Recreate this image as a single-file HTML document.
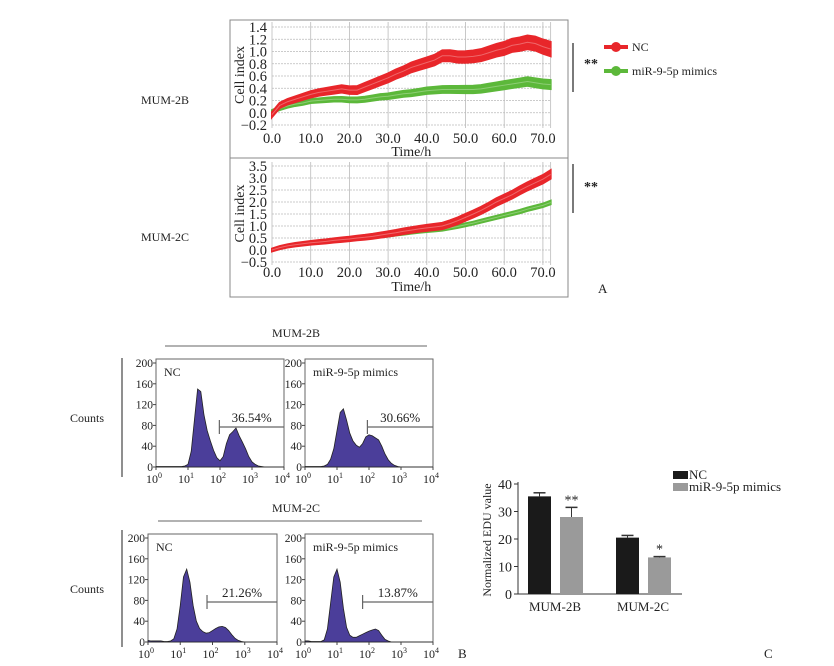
<!DOCTYPE html>
<html><head><meta charset="utf-8"><style>
body{margin:0;background:#fff;}
svg{display:block;font-family:"Liberation Serif",serif;}
</style></head><body>
<svg id="fig" width="834" height="666" viewBox="0 0 834 666"></svg>
<script>
// ---- Panel A data ----
const hours=[0,2,4,6,8,10,12,14,16,18,20,22,24,26,28,30,32,34,36,38,40,42,44,46,48,50,52,54,56,58,60,62,64,66,68,70,72];
const top_nc=[-0.03,0.12,0.18,0.22,0.26,0.30,0.33,0.35,0.37,0.39,0.37,0.37,0.42,0.47,0.52,0.57,0.63,0.68,0.74,0.78,0.82,0.86,0.93,0.93,0.91,0.91,0.92,0.94,0.98,1.02,1.05,1.10,1.12,1.15,1.13,1.08,1.04];
const top_mim=[0.02,0.07,0.11,0.14,0.16,0.19,0.20,0.21,0.22,0.22,0.21,0.21,0.22,0.24,0.26,0.27,0.29,0.31,0.32,0.34,0.36,0.37,0.38,0.38,0.38,0.38,0.38,0.39,0.41,0.43,0.45,0.47,0.49,0.51,0.49,0.47,0.46];
const bot_nc=[0.0,0.1,0.17,0.22,0.26,0.3,0.33,0.36,0.4,0.43,0.46,0.5,0.53,0.57,0.62,0.67,0.72,0.78,0.83,0.88,0.92,0.96,1.0,1.1,1.22,1.36,1.5,1.65,1.82,2.0,2.15,2.3,2.48,2.65,2.8,2.95,3.15];
const bot_mim=[0.0,0.1,0.16,0.21,0.25,0.29,0.32,0.35,0.38,0.41,0.44,0.47,0.5,0.53,0.57,0.61,0.65,0.69,0.73,0.77,0.8,0.83,0.86,0.92,0.98,1.05,1.12,1.2,1.28,1.36,1.44,1.52,1.6,1.7,1.78,1.86,1.98];
const xTicks=["0.0","10.0","20.0","30.0","40.0","50.0","60.0","70.0"];
const topYTicks=["-0.2","0.0","0.2","0.4","0.6","0.8","1.0","1.2","1.4"];
const botYTicks=["-0.5","0.0","0.5","1.0","1.5","2.0","2.5","3.0","3.5"];
// ---- Panel B data (log10 bins 0..4 step 0.1) ----
const logBins=[0,0.1,0.2,0.3,0.4,0.5,0.6,0.7,0.8,0.9,1.0,1.1,1.2,1.3,1.4,1.5,1.6,1.7,1.8,1.9,2.0,2.1,2.2,2.3,2.4,2.5,2.6,2.7,2.8,2.9,3.0,3.1,3.2,3.3,3.4,3.5,3.6,3.7,3.8,3.9,4.0];
const h2b_nc=[1,1,1,1,1,1,1,1,1,2,5,30,90,150,145,100,70,50,32,18,12,20,45,62,68,75,60,48,35,20,10,5,2,1,0,0,0,0,0,0,0];
const h2b_mim=[1,1,1,1,1,1,2,5,15,35,70,105,112,90,65,50,42,38,45,58,62,60,56,52,40,25,14,7,3,1,0,0,0,0,0,0,0,0,0,0,0];
const h2c_nc=[3,2,2,2,2,1,1,2,6,25,70,125,140,115,70,40,26,20,17,18,22,26,29,30,28,22,14,7,3,1,0,0,0,0,0,0,0,0,0,0,0];
const h2c_mim=[2,2,1,1,1,1,4,25,75,125,140,115,65,28,13,9,9,12,15,18,21,23,25,22,13,5,2,0,0,0,0,0,0,0,0,0,0,0,0,0,0];
const countTicks=["0","40","80","120","160","200"];
const gatePct=["36.54%","30.66%","21.26%","13.87%"];
// ---- Panel C data ----
const cCats=["MUM-2B","MUM-2C"];
const cNC=[35.5,20.5];
const cMim=[28,13.3];
const cNCerr=[1.3,0.8];
const cMimErr=[3.5,0.3];
const cSig=["**","*"];
const cYTicks=[0,10,20,30,40];

const NS="http://www.w3.org/2000/svg";
const svg=document.getElementById('fig');
function mk(tag,attrs,parent){const e=document.createElementNS(NS,tag);for(const k in attrs)e.setAttribute(k,attrs[k]);(parent||svg).appendChild(e);return e;}
function txt(s,x,y,attrs,parent){const e=mk('text',Object.assign({x:x,y:y,'font-size':13,fill:'#222'},attrs||{}),parent);e.textContent=s;return e;}

// ===== Panel A =====
const gA=mk('g',{});


const boxA=mk('rect',{x:230,y:20,width:338,height:277,fill:'none',stroke:'#888','stroke-width':1},gA);


mk('line',{x1:230,y1:158,x2:568,y2:158,stroke:'#888'},gA);
const xA=h=>272+h*3.87;
function drawCI(name,yfun,ticks,tickVals,yTop,yBot,labY,titleY,nc,mim,ncErr,mimErr,rowLabel,rowY){
  const g=mk('g',{},gA);
  
  
  for(let i=0;i<=7;i++){mk('line',{x1:xA(i*10),y1:yTop,x2:xA(i*10),y2:yBot,stroke:'#bbb','stroke-width':0.8},g);}
  mk('line',{x1:xA(72),y1:yTop,x2:xA(72),y2:yBot,stroke:'#bbb','stroke-width':0.8},g);
  tickVals.forEach((v,i)=>{const y=yfun(v);mk('line',{x1:xA(0),y1:y,x2:xA(72),y2:y,stroke:'#bbb','stroke-width':0.8,'stroke-dasharray':'2,1'},g);
    const t=txt(ticks[i].replace('-','\u2212'),267,y+5,{'text-anchor':'end','font-size':14.5},g);
    });
  xTicks.forEach((s,i)=>{const t=txt(s,xA(i*10),labY,{'text-anchor':'middle','font-size':14.5},g);
    });
  const xt=txt('Time/h',xA(36),titleY,{'text-anchor':'middle','font-size':14},g);
  
  const yc=(yTop+yBot)/2;
  const yt=txt('Cell index',244,yc,{'text-anchor':'middle','font-size':14,transform:`rotate(-90 244 ${yc})`},g);
  
  function band(vals,err,col,nm){
    let up=hours.map((h,i)=>`${xA(h)},${yfun(vals[i]+err*(0.5+i/hours.length))}`);
    let dn=hours.map((h,i)=>`${xA(h)},${yfun(vals[i]-err*(0.5+i/hours.length))}`).reverse();
    const p=mk('polygon',{points:up.concat(dn).join(' '),fill:col,stroke:col,'stroke-width':2},g);
    
    const l=mk('polyline',{points:hours.map((h,i)=>`${xA(h)},${yfun(vals[i])}`).join(' '),fill:'none',stroke:'rgba(255,255,255,0.3)','stroke-width':1},g);
    
  }
  band(mim,mimErr,'#5cb83a','mimics');
  band(nc,ncErr,'#e8262a','nc');
  const rl=txt(rowLabel,165,rowY,{'text-anchor':'middle','font-size':12},svg);
  
}
drawCI('cell-index-mum-2b',v=>125-(v+0.2)*61.25,topYTicks,[-0.2,0,0.2,0.4,0.6,0.8,1.0,1.2,1.4],22,128,143,156,top_nc,top_mim,0.08,0.05,'MUM-2B',104);
drawCI('cell-index-mum-2c',v=>262-(v+0.5)*24,botYTicks,[-0.5,0,0.5,1,1.5,2,2.5,3,3.5],162,265,277,291,bot_nc,bot_mim,0.12,0.05,'MUM-2C',241);
mk('line',{x1:573,y1:43,x2:573,y2:92,stroke:'#222','stroke-width':1.2});
txt('**',584,68,{'font-size':14,'font-weight':'bold'});
mk('line',{x1:573,y1:164,x2:573,y2:213,stroke:'#222','stroke-width':1.2});
txt('**',584,191,{'font-size':14,'font-weight':'bold'});
const lg=mk('g',{});

mk('line',{x1:604,y1:47,x2:628,y2:47,stroke:'#e8262a','stroke-width':4},lg);
mk('circle',{cx:616,cy:47,r:5,fill:'#e8262a'},lg);
txt('NC',632,51,{'font-size':12},lg);
mk('line',{x1:604,y1:71,x2:628,y2:71,stroke:'#5cb83a','stroke-width':4},lg);
mk('circle',{cx:616,cy:71,r:5,fill:'#5cb83a'},lg);
txt('miR-9-5p mimics',632,75,{'font-size':12},lg);
txt('A',598,293,{'font-size':13});

// ===== Panel B =====
txt('MUM-2B',296,337,{'text-anchor':'middle','font-size':12});
mk('line',{x1:165,y1:346,x2:427,y2:346,stroke:'#666'});
txt('MUM-2C',296,512,{'text-anchor':'middle','font-size':12});
mk('line',{x1:158,y1:521,x2:422,y2:521,stroke:'#666'});
[[418,122,358,477],[589,122,530,647]].forEach(r=>{
  const c=txt('Counts',87,r[0]+4,{'text-anchor':'middle','font-size':12});
  
  mk('line',{x1:r[1],y1:r[2],x2:r[1],y2:r[3],stroke:'#444','stroke-width':1.2});
});
function hist(name,ax,right,y0,data,title,gateLog,pct){
  const g=mk('g',{});
  
  
  const w=right-ax, dec=w/4, yTop=y0-104;
  const X=l=>ax+l*dec, Y=v=>y0-v*(104/200);
  mk('rect',{x:ax,y:yTop-4,width:w,height:y0-yTop+4,fill:'none',stroke:'#666'},g);
  let pts=[`${X(0)},${Y(0)}`].concat(logBins.map((l,i)=>`${X(l)},${Y(data[i])}`)).concat([`${X(4)},${Y(0)}`]);
  const p=mk('polygon',{points:pts.join(' '),fill:'#4b3e9a',stroke:'#222','stroke-width':0.8},g);
  
  countTicks.forEach(s=>{const v=+s;const y=Y(v);mk('line',{x1:ax-3,y1:y,x2:ax,y2:y,stroke:'#444'},g);
    txt(s,ax-3,y+4,{'text-anchor':'end','font-size':11.5},g);});
  for(let d=0;d<=4;d++){const x=X(d);mk('line',{x1:x,y1:y0,x2:x,y2:y0+3,stroke:'#444'},g);
    const t=txt('10',x-2,y0+16,{'text-anchor':'middle','font-size':12},g);
    const s=mk('tspan',{dy:-5,'font-size':8},t);s.textContent=String(d);}
  txt(title,ax+8,yTop+13,{'font-size':12},g);
  const gx=X(gateLog), gy=y0-40;
  mk('line',{x1:gx,y1:gy-7,x2:gx,y2:gy+7,stroke:'#666','stroke-width':1.2},g);
  mk('line',{x1:gx,y1:gy,x2:right,y2:gy,stroke:'#666','stroke-width':1.2},g);
  const t=txt(pct,(gx+right)/2,gy-5,{'text-anchor':'middle','font-size':13},g);
  
}
hist('hist-2b-nc',156,284,467,h2b_nc,'NC',1.98,gatePct[0]);
hist('hist-2b-mimics',305,433,467,h2b_mim,'miR-9-5p mimics',1.95,gatePct[1]);
hist('hist-2c-nc',148,277,642,h2c_nc,'NC',1.83,gatePct[2]);
hist('hist-2c-mimics',305,433,642,h2c_mim,'miR-9-5p mimics',1.8,gatePct[3]);
txt('B',458,658,{'font-size':13});

// ===== Panel C =====
const gC=mk('g',{});


const yC=v=>594-v*2.75;
mk('line',{x1:518,y1:yC(40)-2,x2:518,y2:594,stroke:'#333'},gC);
mk('line',{x1:518,y1:594,x2:682,y2:594,stroke:'#333'},gC);
cYTicks.forEach(v=>{mk('line',{x1:514,y1:yC(v),x2:518,y2:yC(v),stroke:'#333'},gC);
  txt(String(v),512,yC(v)+5,{'text-anchor':'end','font-size':14},gC);});
const yT=txt('Normalized EDU value',491,540,{'text-anchor':'middle','font-size':12,transform:'rotate(-90 491 540)'},gC);

const groupX=[528,616];
cCats.forEach((c,i)=>{
  const x0=groupX[i];
  const b1=mk('rect',{x:x0,y:yC(cNC[i]),width:23,height:594-yC(cNC[i]),fill:'#1a1a1a'},gC);
  
  const b2=mk('rect',{x:x0+32,y:yC(cMim[i]),width:23,height:594-yC(cMim[i]),fill:'#9a9a9a'},gC);
  
  [[x0+11.5,cNC[i],cNCerr[i]],[x0+43.5,cMim[i],cMimErr[i]]].forEach(e=>{
    mk('line',{x1:e[0],y1:yC(e[1]),x2:e[0],y2:yC(e[1]+e[2]),stroke:'#333'},gC);
    mk('line',{x1:e[0]-6,y1:yC(e[1]+e[2]),x2:e[0]+6,y2:yC(e[1]+e[2]),stroke:'#333','stroke-width':1.5},gC);});
  txt(cSig[i],x0+43.5,yC(cMim[i]+cMimErr[i])-3,{'text-anchor':'middle','font-size':14},gC);
  txt(c,x0+27,611,{'text-anchor':'middle','font-size':13},gC);
});
mk('rect',{x:673,y:471,width:15,height:8,fill:'#1a1a1a'},gC);
txt('NC',689,479,{'font-size':13},gC);
mk('rect',{x:673,y:483,width:15,height:8,fill:'#9a9a9a'},gC);
txt('miR-9-5p mimics',689,491,{'font-size':13},gC);
txt('C',764,658,{'font-size':13});
</script>
</body></html>
